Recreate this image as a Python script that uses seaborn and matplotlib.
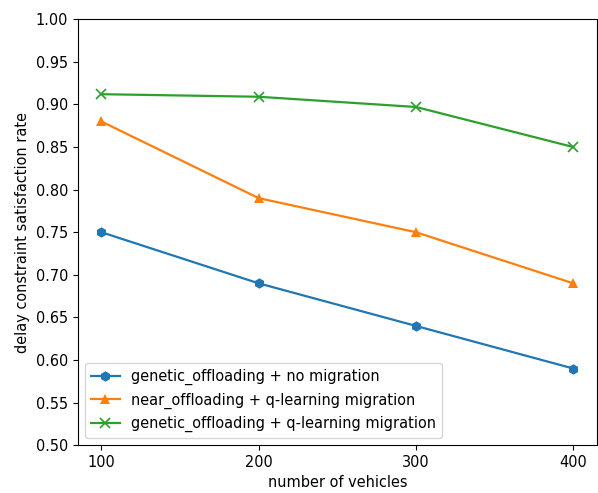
import matplotlib
matplotlib.use('Agg')
import matplotlib.pyplot as plt
import numpy as np
import seaborn as sns

# number of vehicles on the x axis
vehicles = [100, 200, 300, 400]

# delay constraint satisfaction rate for each strategy
genetic_no_migration = [0.75, 0.69, 0.64, 0.59]
near_q_learning = [0.88, 0.79, 0.75, 0.69]
genetic_q_learning = [0.912, 0.909, 0.897, 0.85]

plt.rcParams['font.size'] = 10.45
plt.rcParams['lines.linewidth'] = 1.6

fig = plt.figure(figsize=(5.98, 4.93), dpi=100)
ax = fig.add_axes([0.130, 0.097, 0.868, 0.864])

sns.lineplot(x=vehicles, y=genetic_no_migration, marker='h', markersize=7.5,
             markeredgewidth=0, label='genetic_offloading + no migration', ax=ax, color='C0')
sns.lineplot(x=vehicles, y=near_q_learning, marker='^', markersize=7.5,
             markeredgewidth=0, label='near_offloading + q-learning migration', ax=ax, color='C1')
sns.lineplot(x=vehicles, y=genetic_q_learning, marker='x', markersize=7,
             markeredgewidth=1.2, markeredgecolor='C2',
             label='genetic_offloading + q-learning migration', ax=ax, color='C2')

ax.set_ylim(0.5, 1.0)
ax.set_yticks(np.arange(0.5, 1.001, 0.05))
ax.yaxis.set_major_formatter(matplotlib.ticker.FormatStrFormatter('%.2f'))
ax.set_xticks(vehicles)
ax.set_xlabel('number of vehicles')
ax.set_ylabel('delay constraint satisfaction rate')
ax.legend(loc='lower left')

fig.savefig('out.png', dpi=100)
